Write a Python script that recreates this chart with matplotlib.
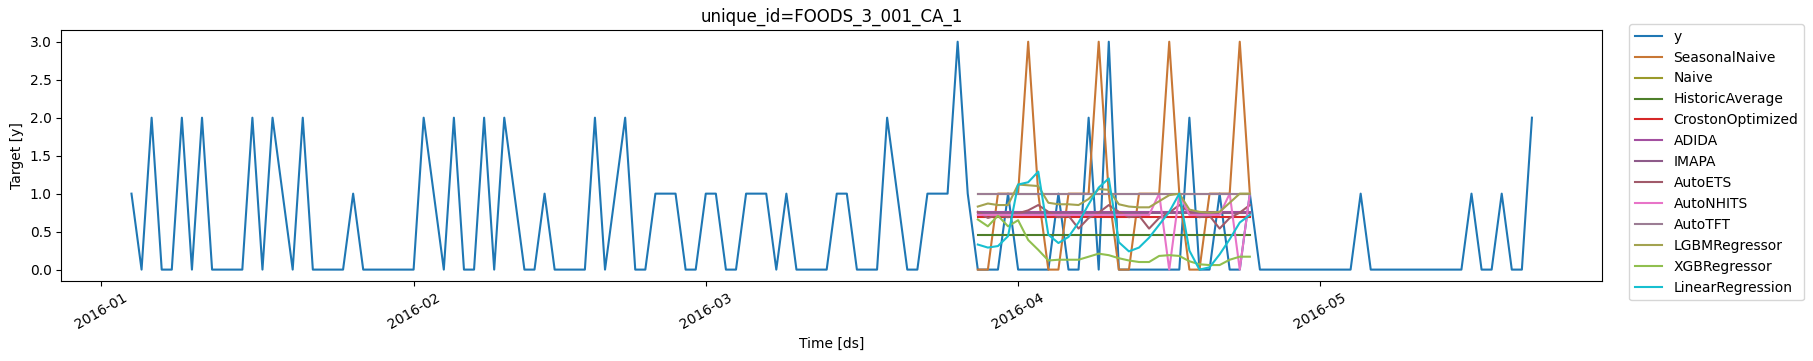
import matplotlib
matplotlib.use("Agg")
import matplotlib.pyplot as plt
import matplotlib.dates as mdates
import pandas as pd
import numpy as np

title = "unique_id=FOODS_3_001_CA_1"

y_start = "2016-01-04"
y_values = [
    1, 0, 2, 0, 0, 2, 0, 2, 0, 0, 0, 0, 2, 0, 2, 1, 0, 2, 0, 0,   # Jan 4 - Jan 23
    0, 0, 1, 0, 0, 0, 0, 0, 0, 2, 1, 0, 2, 0, 0, 2, 0, 2, 1, 0,   # Jan 24 - Feb 12
    0, 1, 0, 0, 0, 0, 2, 0, 1, 2, 0, 0, 1, 1, 1, 0, 0, 1, 1, 0,   # Feb 13 - Mar 3
    0, 1, 1, 1, 0, 1, 0, 0, 0, 0, 1, 1, 0, 0, 0, 2, 1, 0, 0, 1,   # Mar 4 - Mar 23
    1, 1, 3, 1,                                                   # Mar 24 - Mar 27
    0, 0, 0, 1, 0, 0, 0, 0, 1, 0, 0, 2, 0, 3, 0, 0, 0, 0, 0, 0,   # Mar 28 - Apr 16
    0, 2, 0, 0, 1, 0, 0, 1,                                       # Apr 17 - Apr 24
    0, 0, 0, 0, 0, 0, 0, 0, 0, 0, 1, 0, 0, 0, 0, 0, 0, 0, 0, 0,   # Apr 25 - May 14
    0, 1, 0, 0, 1, 0, 0, 2,                                       # May 15 - May 22
]

fc_start = "2016-03-28"
seasonal_naive = [0, 0, 1, 1, 1, 3, 1] * 4
naive = [1.0] * 28
historic_average = [0.45] * 28
croston_optimized = [0.69] * 28
adida = [0.76] * 28
imapa = [0.75] * 28
auto_ets = [0.76, 0.68, 0.72, 0.69, 0.74, 0.78, 0.85, 0.76, 0.69, 0.71, 0.54, 0.68, 0.75, 0.85,
            0.76, 0.69, 0.71, 0.54, 0.68, 0.75, 0.85, 0.76, 0.69, 0.71, 0.54, 0.68, 0.75, 0.85]
auto_nhits = [0.72, 0.72, 0.72, 0.72, 0.72, 0.72, 0.72, 0.72, 0.72, 0.72, 0.72, 0.72, 0.72, 0.72,
              0.72, 0.72, 0.72, 0.72, 1.0, 0.0, 1.0, 0.72, 0.72, 0.72, 0.72, 1.0, 0.0, 1.0]
auto_tft = [1.0] * 28
lgbm = [0.83, 0.87, 0.85, 0.85, 1.12, 1.11, 1.10, 0.88, 0.86, 0.86, 0.85, 0.93, 1.06, 1.05,
        0.86, 0.83, 0.82, 0.82, 0.90, 0.98, 1.00, 0.79, 0.76, 0.75, 0.76, 0.88, 1.00, 1.00]
xgb = [0.66, 0.57, 0.71, 0.57, 0.65, 0.39, 0.26, 0.12, 0.13, 0.13, 0.13, 0.17, 0.21, 0.19,
       0.15, 0.12, 0.10, 0.10, 0.18, 0.19, 0.18, 0.11, 0.07, 0.06, 0.06, 0.13, 0.17, 0.17]
linreg = [0.33, 0.29, 0.31, 0.44, 1.12, 1.15, 1.29, 0.46, 0.35, 0.43, 0.62, 0.86, 1.08, 1.20,
          0.36, 0.24, 0.29, 0.42, 0.59, 0.76, 1.00, 0.25, 0.00, 0.03, 0.20, 0.40, 0.62, 0.72]

series_names = ["SeasonalNaive", "Naive", "HistoricAverage", "CrostonOptimized", "ADIDA",
                "IMAPA", "AutoETS", "AutoNHITS", "AutoTFT", "LGBMRegressor", "XGBRegressor",
                "LinearRegression"]
series_values = [seasonal_naive, naive, historic_average, croston_optimized, adida, imapa,
                 auto_ets, auto_nhits, auto_tft, lgbm, xgb, linreg]
colors = ["#c87735", "#9a9a2a", "#4e7f2a", "#d62828", "#a34fa0", "#8e5b8a", "#a15a6a",
          "#e874c8", "#9c7d94", "#a3a350", "#90bf4f", "#17bfd0"]

y_dates = pd.date_range(y_start, periods=len(y_values), freq="D")
fc_dates = pd.date_range(fc_start, periods=28, freq="D")

fig = plt.figure(figsize=(18.13, 3.61), dpi=100)
ax = fig.add_axes([0.0339, 0.2216, 0.8497, 0.6944])

handles = []
h, = ax.plot(y_dates, y_values, color="#1f77b4", lw=1.5, label="y")
handles.append(h)
for name, vals, c in zip(series_names, series_values, colors):
    h, = ax.plot(fc_dates, vals, color=c, lw=1.5, label=name)
    handles.append(h)

ax.set_title(title, fontsize=12)
ax.set_xlabel("Time [ds]")
ax.set_ylabel("Target [y]")
ax.xaxis.set_major_locator(mdates.MonthLocator())
ax.xaxis.set_major_formatter(mdates.DateFormatter("%Y-%m"))
for lbl in ax.get_xticklabels():
    lbl.set_rotation(30)
    lbl.set_ha("center")

fig.legend(handles=handles, loc="upper left", bbox_to_anchor=(1629 / 1813, 1 - 24 / 361),
           borderaxespad=0, fontsize=10)

fig.savefig("out.png", dpi=100)
